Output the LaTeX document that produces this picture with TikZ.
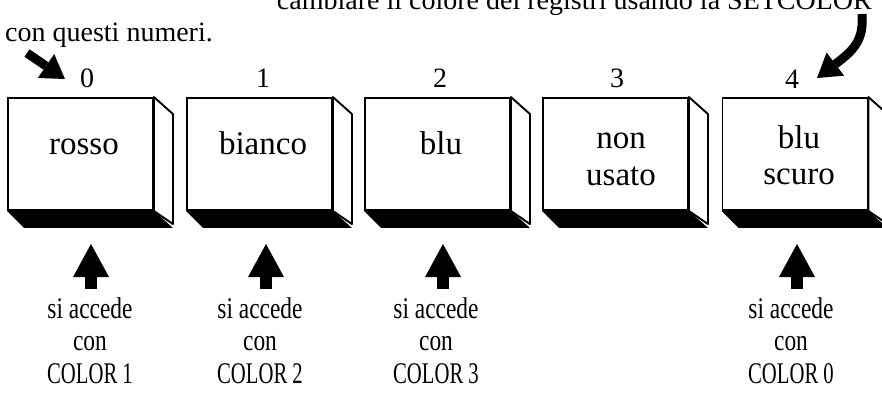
\documentclass[tikz,border=0pt]{standalone}
\usepackage{fontspec}
\setmainfont{Liberation Serif}
\newfontfamily\condfont[FakeStretch=0.78]{Liberation Serif}
\newfontfamily\capsfont[FakeStretch=0.69]{Liberation Serif}
\usetikzlibrary{arrows.meta,calc}
\begin{document}
\begin{tikzpicture}[x=1pt,y=-1pt,
  face/.style={draw, line width=1.9pt, fill=white, minimum width=145pt, minimum height=112pt, inner sep=0pt},
  edge/.style={line width=1.9pt, line join=round},
  lab/.style={font=\fontsize{33}{39}\selectfont, inner sep=0pt},
  digit/.style={font=\fontsize{28}{32}\selectfont, inner sep=0pt},
  captext/.style={font=\fontsize{28}{34}\selectfont, inner sep=0pt},
  acc/.style={font=\condfont\fontsize{30}{34}\selectfont, inner sep=0pt},
  colr/.style={font=\capsfont\fontsize{30}{34}\selectfont, inner sep=0pt},
  uparrow/.style={line width=12pt, -{Triangle[length=33pt,width=36pt,line width=0pt]}},
  darrow/.style={line width=9pt, -{Triangle[length=23pt,width=29pt,line width=0pt]}},
]
\useasboundingbox (0,0) rectangle (882,392);

% cut-off first line of the caption
\begin{scope}
  \clip (252,0) rectangle (882,30);
  \node[captext, anchor=base east] (top) at (872,9) {cambiare il colore dei registri usando la SETCOLOR};
\end{scope}
\node[captext, anchor=base west] (caption) at (5,41) {con questi numeri.};

% boxes
\foreach \i/\cx in {1/80.5, 2/259.5, 3/437.5, 4/615.5, 5/795} {
  \node[face] (b\i) at (\cx,154) {};
  \fill[line join=round] (b\i.south west) -- (b\i.south east) -- ++(19,17) -- ($(b\i.south west)+(17,17)$) -- cycle;
  \draw[edge, fill=white] (b\i.north east) -- ++(19,17) -- ++(0,110) -- (b\i.south east) -- cycle;
}

% box labels
\node[lab, anchor=base] (t1) at (84,154) {rosso};
\node[lab, anchor=base] (t2) at (263,154) {bianco};
\node[lab, anchor=base] (t3) at (441,154) {blu};
\node[lab, anchor=base] (t4a) at (621,148) {non};
\node[lab, anchor=base] (t4b) at (621,185) {usato};
\node[lab, anchor=base] (t5a) at (799,148) {blu};
\node[lab, anchor=base] (t5b) at (799,184) {scuro};

% register numbers
\node[digit, anchor=base] (n0) at (87,87) {0};
\node[digit, anchor=base] (n1) at (263,87) {1};
\node[digit, anchor=base] (n2) at (440,87) {2};
\node[digit, anchor=base] (n3) at (617,87) {3};
\node[digit, anchor=base] (n4) at (792,88) {4};

% pointing arrows at top
\coordinate (s0) at (27,53);
\coordinate (e0) at (65,79);
\draw[darrow] (s0) -- (e0);
\coordinate (s4) at (862,14);
\coordinate (e4) at (817,78);
\draw[darrow] (s4) .. controls (864,40) and (854,50) .. (e4);

% up arrows
\foreach \j/\ax in {1/91, 2/266, 3/443, 5/797} {
  \coordinate (u\j t) at (\ax,244);
  \coordinate (u\j b) at (\ax,289);
  \draw[uparrow] (u\j b) -- (u\j t);
}

% access labels
\node[acc, anchor=base] (sa1) at (90,318) {si accede};
\node[acc, anchor=base] (co1) at (90,350) {con};
\node[colr, anchor=base] (cl1) at (90,383) {COLOR 1};
\node[acc, anchor=base] (sa2) at (260,318) {si accede};
\node[acc, anchor=base] (co2) at (260,350) {con};
\node[colr, anchor=base] (cl2) at (260,383) {COLOR 2};
\node[acc, anchor=base] (sa3) at (436,318) {si accede};
\node[acc, anchor=base] (co3) at (436,350) {con};
\node[colr, anchor=base] (cl3) at (436,383) {COLOR 3};
\node[acc, anchor=base] (sa5) at (791,318) {si accede};
\node[acc, anchor=base] (co5) at (791,350) {con};
\node[colr, anchor=base] (cl5) at (791,383) {COLOR 0};
\end{tikzpicture}
\end{document}
